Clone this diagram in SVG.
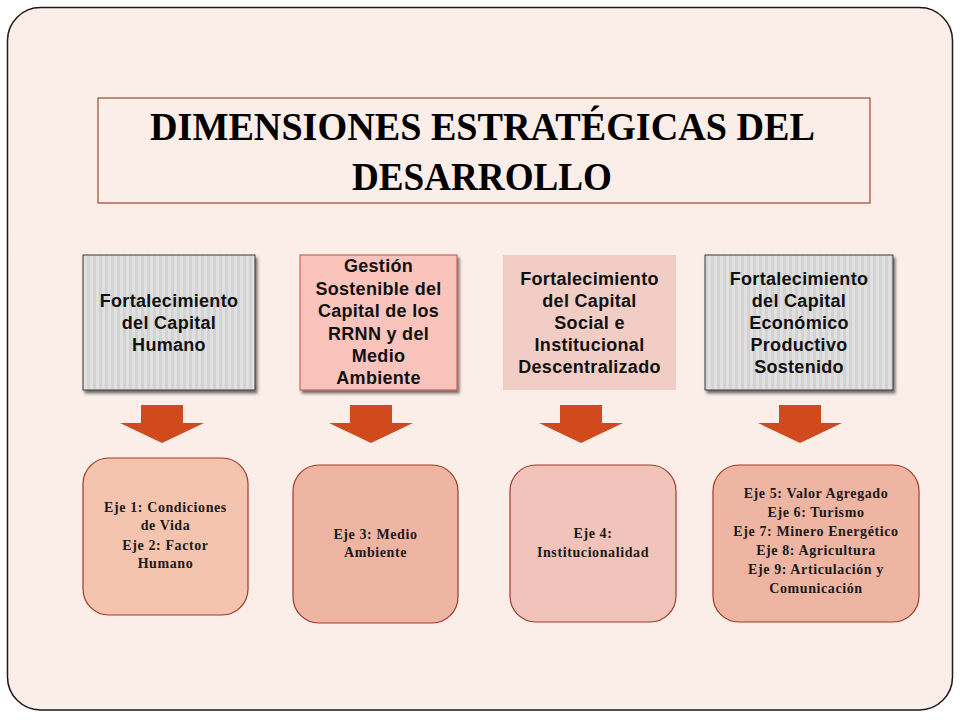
<svg xmlns="http://www.w3.org/2000/svg" width="960" height="720" viewBox="0 0 960 720">
  <defs>
    <pattern id="stripes" x="0" y="0" width="6" height="10" patternUnits="userSpaceOnUse">
      <rect width="6" height="10" fill="#D3D3D3"/>
      <rect x="0" width="3" height="10" fill="#E0E0E0"/>
    </pattern>
    <filter id="shadow" x="-10%" y="-10%" width="130%" height="130%">
      <feGaussianBlur in="SourceAlpha" stdDeviation="1.5"/>
      <feOffset dx="2" dy="3" result="ob"/>
      <feComponentTransfer><feFuncA type="linear" slope="0.55"/></feComponentTransfer>
      <feMerge><feMergeNode/><feMergeNode in="SourceGraphic"/></feMerge>
    </filter>
    <style>
      .title { font-family: "Liberation Serif", serif; font-weight: bold; font-size: 40px; fill: #000; }
      .top { font-family: "Liberation Sans", Arial, sans-serif; font-weight: bold; font-size: 18px; fill: #111; text-anchor: middle; letter-spacing: 0.3px; }
      .eje { font-family: "Liberation Serif", serif; font-weight: bold; font-size: 14px; fill: #1a1a1a; text-anchor: middle; letter-spacing: 0.6px; }
      .gray { fill: url(#stripes); stroke: #3a3a3a; stroke-width: 1; filter: url(#shadow); }
      .axis { stroke: #9E3A26; stroke-width: 1.2; }
      .arrow { fill: #D04A1D; }
    </style>
  </defs>

  <rect x="0" y="0" width="960" height="720" fill="#FFFFFF"/>
  <rect id="frame" x="7.5" y="7.5" width="945" height="702.5" rx="33" ry="33" fill="#FBEEE9" stroke="#1a1a1a" stroke-width="1.5"/>

  <g id="title">
    <rect x="98" y="98" width="772" height="105" fill="#FBEEE9" stroke="#A2452E" stroke-width="1.2"/>
    <text class="title" x="150" y="140" textLength="665" lengthAdjust="spacingAndGlyphs">DIMENSIONES ESTRATÉGICAS DEL</text>
    <text class="title" x="352" y="190" textLength="260" lengthAdjust="spacingAndGlyphs">DESARROLLO</text>
  </g>

  <g id="dim1">
    <rect class="gray" x="83" y="255" width="172" height="135"/>
    <text class="top" x="169" y="307">Fortalecimiento</text>
    <text class="top" x="169" y="329">del Capital</text>
    <text class="top" x="169" y="351">Humano</text>
  </g>
  <g id="dim2">
    <rect x="300" y="255" width="157" height="135" fill="#FAC4BC" stroke="#C0504D" stroke-width="1" filter="url(#shadow)"/>
    <text class="top" x="378.5" y="272">Gestión</text>
    <text class="top" x="378.5" y="295">Sostenible del</text>
    <text class="top" x="378.5" y="317">Capital  de los</text>
    <text class="top" x="378.5" y="340">RRNN y del</text>
    <text class="top" x="378.5" y="362">Medio</text>
    <text class="top" x="378.5" y="384">Ambiente</text>
  </g>
  <g id="dim3">
    <rect x="503" y="255" width="173" height="135" fill="#F2CDC6"/>
    <text class="top" x="589.5" y="285">Fortalecimiento</text>
    <text class="top" x="589.5" y="307">del Capital</text>
    <text class="top" x="589.5" y="329">Social e</text>
    <text class="top" x="589.5" y="351">Institucional</text>
    <text class="top" x="589.5" y="373">Descentralizado</text>
  </g>
  <g id="dim4">
    <rect class="gray" x="705" y="255" width="188" height="135"/>
    <text class="top" x="799" y="285">Fortalecimiento</text>
    <text class="top" x="799" y="307">del Capital</text>
    <text class="top" x="799" y="329">Económico</text>
    <text class="top" x="799" y="351">Productivo</text>
    <text class="top" x="799" y="373">Sostenido</text>
  </g>

  <g id="connectors">
    <polygon class="arrow" points="141,405 183,405 183,423 204,423 162,443 120,423 141,423"/>
    <polygon class="arrow" points="350,405 392,405 392,423 413,423 371,443 329,423 350,423"/>
    <polygon class="arrow" points="560,405 602,405 602,423 623,423 581,443 539,423 560,423"/>
    <polygon class="arrow" points="779,405 821,405 821,423 842,423 800,443 758,423 779,423"/>
  </g>

  <g id="eje1">
    <rect class="axis" x="83" y="458" width="165" height="157" rx="26" ry="26" fill="#F5C4AF"/>
    <text class="eje" x="165.5" y="512">Eje 1: Condiciones</text>
    <text class="eje" x="165.5" y="530">de Vida</text>
    <text class="eje" x="165.5" y="550">Eje 2: Factor</text>
    <text class="eje" x="165.5" y="568">Humano</text>
  </g>
  <g id="eje3">
    <rect class="axis" x="293" y="465" width="165" height="158" rx="26" ry="26" fill="#EEB5A2"/>
    <text class="eje" x="375.5" y="539">Eje 3: Medio</text>
    <text class="eje" x="375.5" y="557">Ambiente</text>
  </g>
  <g id="eje4">
    <rect class="axis" x="510" y="465" width="166" height="157" rx="26" ry="26" fill="#F2C3BB"/>
    <text class="eje" x="593" y="538">Eje 4:</text>
    <text class="eje" x="593" y="557">Institucionalidad</text>
  </g>
  <g id="eje5">
    <rect class="axis" x="713" y="465" width="206" height="157" rx="26" ry="26" fill="#EEB5A2"/>
    <text class="eje" x="816" y="498">Eje 5: Valor Agregado</text>
    <text class="eje" x="816" y="517">Eje 6: Turismo</text>
    <text class="eje" x="816" y="536">Eje 7: Minero Energético</text>
    <text class="eje" x="816" y="555">Eje 8: Agricultura</text>
    <text class="eje" x="816" y="574">Eje 9: Articulación y</text>
    <text class="eje" x="816" y="593">Comunicación</text>
  </g>
</svg>
